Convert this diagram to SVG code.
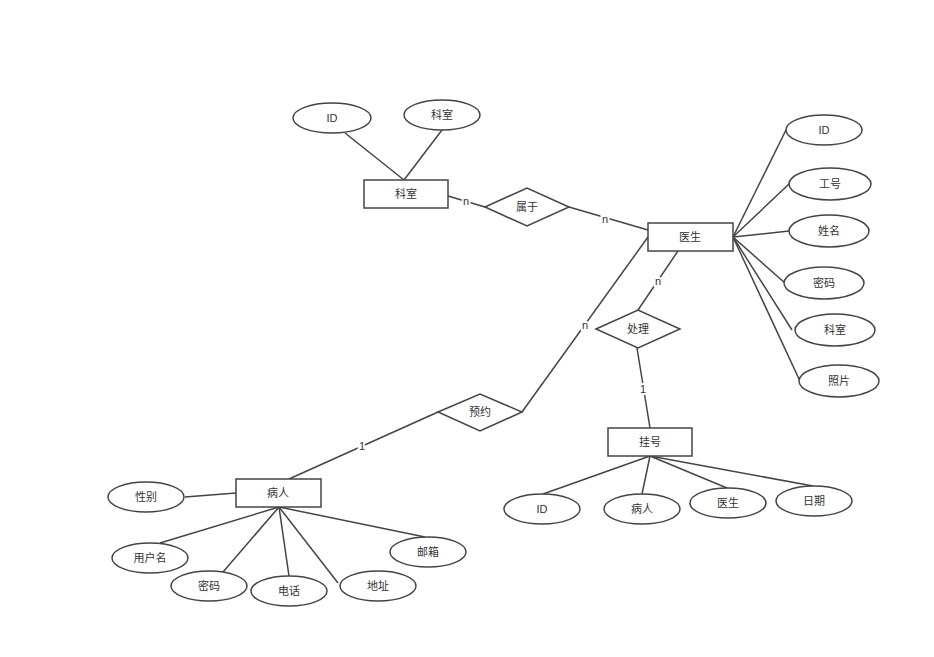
<svg xmlns="http://www.w3.org/2000/svg" width="934" height="657" viewBox="0 0 934 657">
<style>
.s{fill:#fff;stroke:#444;stroke-width:1.5}
.c line{stroke:#444;stroke-width:1.5}
text{font-family:"Liberation Sans","Noto Sans CJK SC",sans-serif;font-size:11px;fill:#333;text-anchor:middle;dominant-baseline:central}
.lb{stroke:#fff;stroke-width:4;paint-order:stroke}
</style>
<rect width="934" height="657" fill="#fff"/>
<g id="connectors" class="c">
<line x1="345" y1="133" x2="404" y2="180"/>
<line x1="442" y1="130" x2="404" y2="180"/>
<line x1="448" y1="196" x2="485" y2="207"/>
<line x1="569" y1="207" x2="648" y2="230"/>
<line x1="733" y1="237" x2="786" y2="130"/>
<line x1="733" y1="237" x2="789" y2="184"/>
<line x1="733" y1="237" x2="789" y2="231"/>
<line x1="733" y1="237" x2="785" y2="283"/>
<line x1="733" y1="237" x2="792" y2="330"/>
<line x1="733" y1="237" x2="799" y2="379"/>
<line x1="678" y1="251" x2="638" y2="310"/>
<line x1="648" y1="237" x2="522" y2="412"/>
<line x1="637" y1="348" x2="650" y2="428"/>
<line x1="438" y1="412" x2="289" y2="479"/>
<line x1="236" y1="493" x2="185" y2="497"/>
<line x1="279" y1="507" x2="160" y2="543"/>
<line x1="279" y1="507" x2="223" y2="572"/>
<line x1="279" y1="507" x2="289" y2="576"/>
<line x1="279" y1="507" x2="338" y2="583"/>
<line x1="279" y1="507" x2="425" y2="537"/>
<line x1="650" y1="456" x2="543" y2="494"/>
<line x1="650" y1="456" x2="642" y2="494"/>
<line x1="650" y1="456" x2="727" y2="488"/>
<line x1="650" y1="456" x2="813" y2="486"/>
<text class="lb" x="466" y="201">n</text>
<text class="lb" x="605" y="219">n</text>
<text class="lb" x="658" y="281">n</text>
<text class="lb" x="585" y="325">n</text>
<text class="lb" x="643" y="389">1</text>
<text class="lb" x="362" y="446">1</text>
</g>
<g id="e-keshi"><rect class="s" x="364" y="180" width="84" height="28"/><text x="406" y="194">科室</text></g>
<g id="e-yisheng"><rect class="s" x="648" y="223" width="85" height="28"/><text x="690" y="237">医生</text></g>
<g id="e-guahao"><rect class="s" x="608" y="428" width="84" height="28"/><text x="650" y="442">挂号</text></g>
<g id="e-bingren"><rect class="s" x="236" y="479" width="85" height="28"/><text x="278" y="493">病人</text></g>
<g id="r-shuyu"><polygon class="s" points="485,207 527,188 569,207 527,226"/><text x="527" y="207">属于</text></g>
<g id="r-chuli"><polygon class="s" points="596,329 638,310 680,329 638,348"/><text x="638" y="329">处理</text></g>
<g id="r-yuyue"><polygon class="s" points="438,412 480,394 522,412 480,431"/><text x="480" y="412">预约</text></g>
<g id="a-ks-id"><ellipse class="s" cx="332" cy="118" rx="39" ry="15"/><text x="332" y="118">ID</text></g>
<g id="a-ks-ks"><ellipse class="s" cx="442" cy="115" rx="38" ry="15"/><text x="442" y="115">科室</text></g>
<g id="a-ys-id"><ellipse class="s" cx="824" cy="130" rx="38" ry="15"/><text x="824" y="130">ID</text></g>
<g id="a-ys-gh"><ellipse class="s" cx="830" cy="184" rx="41" ry="16"/><text x="830" y="184">工号</text></g>
<g id="a-ys-xm"><ellipse class="s" cx="829" cy="231" rx="40" ry="16"/><text x="829" y="231">姓名</text></g>
<g id="a-ys-mm"><ellipse class="s" cx="824" cy="283" rx="40" ry="16"/><text x="824" y="283">密码</text></g>
<g id="a-ys-ks"><ellipse class="s" cx="835" cy="330" rx="40" ry="16"/><text x="835" y="330">科室</text></g>
<g id="a-ys-zp"><ellipse class="s" cx="839" cy="381" rx="40" ry="16"/><text x="839" y="381">照片</text></g>
<g id="a-br-xb"><ellipse class="s" cx="146" cy="497" rx="38" ry="15"/><text x="146" y="497">性别</text></g>
<g id="a-br-yhm"><ellipse class="s" cx="150" cy="558" rx="38" ry="15"/><text x="150" y="558">用户名</text></g>
<g id="a-br-mm"><ellipse class="s" cx="209" cy="586" rx="38" ry="15"/><text x="209" y="586">密码</text></g>
<g id="a-br-dh"><ellipse class="s" cx="289" cy="591" rx="38" ry="15"/><text x="289" y="591">电话</text></g>
<g id="a-br-dz"><ellipse class="s" cx="378" cy="586" rx="38" ry="15"/><text x="378" y="586">地址</text></g>
<g id="a-br-yx"><ellipse class="s" cx="428" cy="552" rx="38" ry="15"/><text x="428" y="552">邮箱</text></g>
<g id="a-gh-id"><ellipse class="s" cx="542" cy="509" rx="38" ry="15"/><text x="542" y="509">ID</text></g>
<g id="a-gh-br"><ellipse class="s" cx="642" cy="509" rx="38" ry="15"/><text x="642" y="509">病人</text></g>
<g id="a-gh-ys"><ellipse class="s" cx="728" cy="503" rx="38" ry="15"/><text x="728" y="503">医生</text></g>
<g id="a-gh-rq"><ellipse class="s" cx="814" cy="501" rx="38" ry="15"/><text x="814" y="501">日期</text></g>
</svg>
